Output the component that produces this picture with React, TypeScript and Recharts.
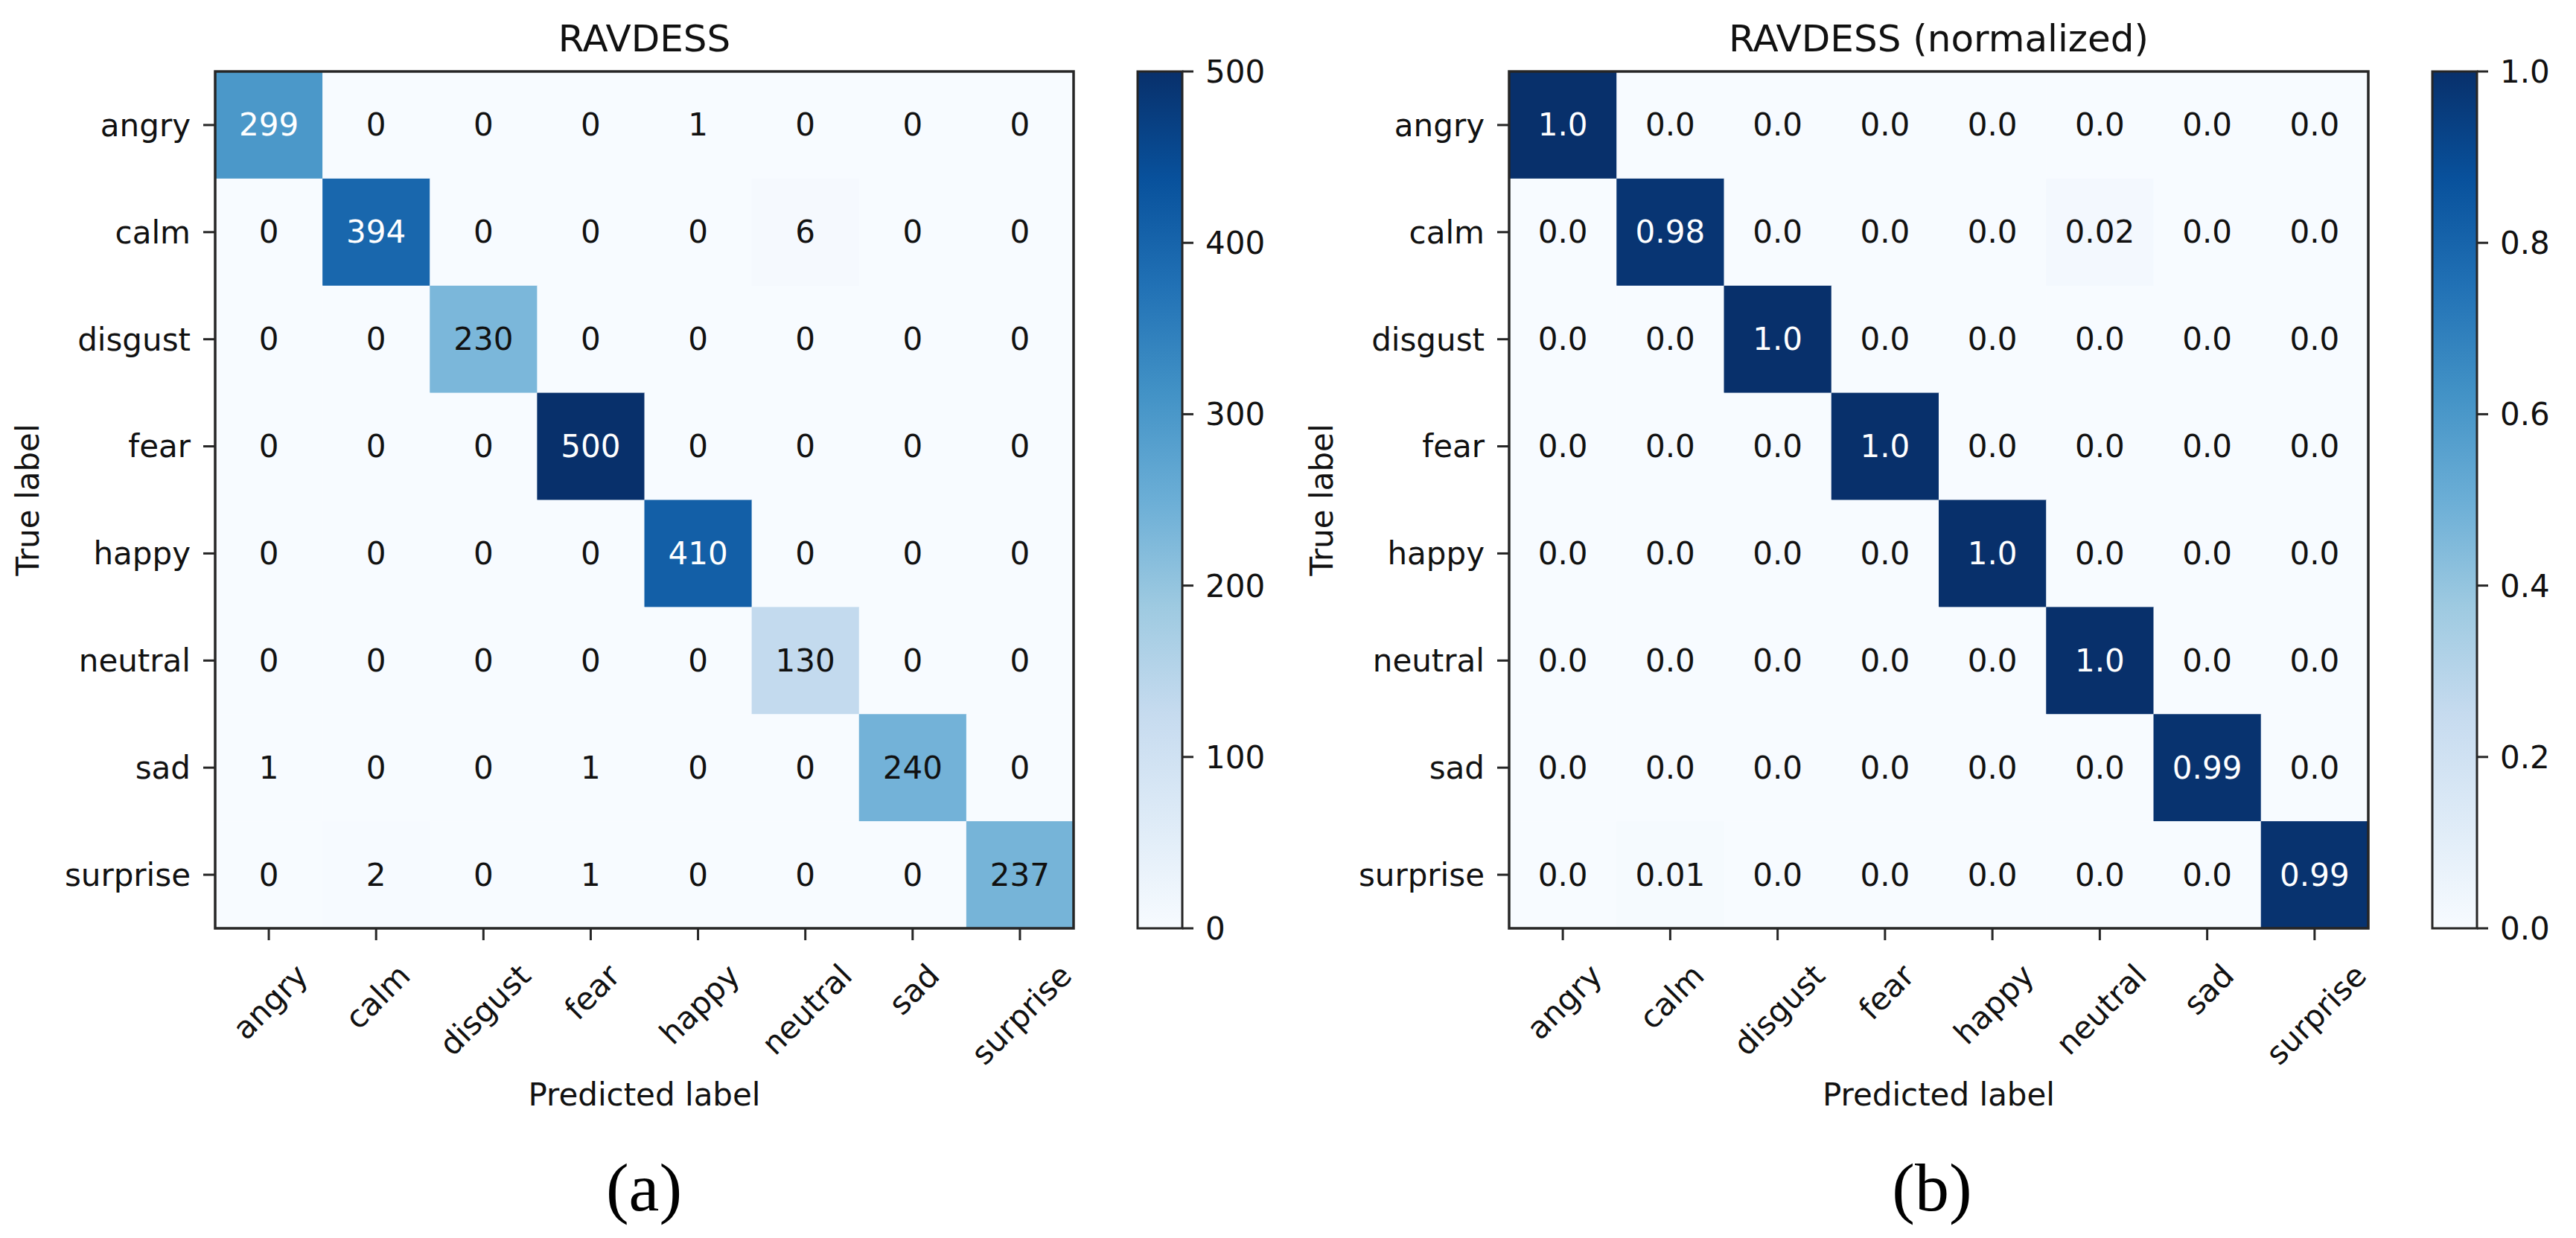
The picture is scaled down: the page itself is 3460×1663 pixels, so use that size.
import React from 'react';
import { ScatterChart, Scatter, XAxis, YAxis, ReferenceArea, BarChart, Bar, Label } from 'recharts';

// class names, in the order matplotlib drew them
const LABELS = ['angry', 'calm', 'disgust', 'fear', 'happy', 'neutral', 'sad', 'surprise'];

// rows = true label, columns = predicted label
const COUNTS = [
  [299, 0, 0, 0, 1, 0, 0, 0],
  [0, 394, 0, 0, 0, 6, 0, 0],
  [0, 0, 230, 0, 0, 0, 0, 0],
  [0, 0, 0, 500, 0, 0, 0, 0],
  [0, 0, 0, 0, 410, 0, 0, 0],
  [0, 0, 0, 0, 0, 130, 0, 0],
  [1, 0, 0, 1, 0, 0, 240, 0],
  [0, 2, 0, 1, 0, 0, 0, 237],
];

const NORMALIZED = [
  [1.0, 0, 0, 0, 0, 0, 0, 0],
  [0, 0.98, 0, 0, 0, 0.02, 0, 0],
  [0, 0, 1.0, 0, 0, 0, 0, 0],
  [0, 0, 0, 1.0, 0, 0, 0, 0],
  [0, 0, 0, 0, 1.0, 0, 0, 0],
  [0, 0, 0, 0, 0, 1.0, 0, 0],
  [0, 0, 0, 0, 0, 0, 0.99, 0],
  [0, 0.01, 0, 0, 0, 0, 0, 0.99],
];

const COUNT_TICKS = [0, 100, 200, 300, 400, 500];
const NORM_TICKS = [0, 0.2, 0.4, 0.6, 0.8, 1.0];
const INDEX_TICKS = LABELS.map((_, i) => i);

// matplotlib "Blues"
const BLUES = ['#f7fbff', '#deebf7', '#c6dbef', '#9ecae1', '#6baed6', '#4292c6', '#2171b5', '#08519c', '#08306b'];

const W = 3460;
const H = 1663;
const PANEL_W = 1730;
const PLOT_TOP = 96;
const PLOT_BOTTOM = 1247;
const FONT = '"DejaVu Sans", sans-serif';
const FS = 42;
const INK = '#111111';
const LINE = '#262626';

const hexToRgb = (h: string) => [1, 3, 5].map((i) => parseInt(h.slice(i, i + 2), 16));

const blues = (t: number) => {
  const s = Math.max(0, Math.min(1, t)) * (BLUES.length - 1);
  const i = Math.min(Math.floor(s), BLUES.length - 2);
  const f = s - i;
  const a = hexToRgb(BLUES[i]);
  const b = hexToRgb(BLUES[i + 1]);
  const c = a.map((v, k) => Math.round(v + (b[k] - v) * f));
  return `rgb(${c[0]},${c[1]},${c[2]})`;
};

let ctx: CanvasRenderingContext2D | null = null;
const textWidth = (s: string) => {
  if (!ctx) ctx = document.createElement('canvas').getContext('2d');
  if (!ctx) return s.length * FS * 0.6;
  ctx.font = `${FS}px "DejaVu Sans"`;
  return ctx.measureText(s).width;
};

// rotated label, bounding box centred under the tick like matplotlib's rotation=45
const XTick = (props: any) => {
  const { x, y, payload } = props;
  const label = LABELS[payload.value];
  const ex = x + 0.354 * textWidth(label) + 2;
  const ey = y + 40;
  return (
    <text
      x={ex}
      y={ey}
      textAnchor="end"
      dominantBaseline="central"
      fontSize={FS}
      fill={INK}
      transform={`rotate(-45 ${ex} ${ey})`}
    >
      {label}
    </text>
  );
};

interface PanelProps {
  origin: number;
  plotLeft: number;
  plotRight: number;
  title: string;
  caption: string;
  matrix: number[][];
  vmax: number;
  colorTicks: number[];
  fmtCell: (v: number) => string;
  fmtTick: (v: number) => string;
  gradId: string;
}

const Panel = ({ origin, plotLeft, plotRight, title, caption, matrix, vmax, colorTicks, fmtCell, fmtTick, gradId }: PanelProps) => {
  const cw = (plotRight - plotLeft) / LABELS.length;
  const ch = (PLOT_BOTTOM - PLOT_TOP) / LABELS.length;
  const center = (plotLeft + plotRight) / 2;
  const cbLeft = plotRight + 86;
  const cells = matrix.flatMap((row, r) => row.map((v, c) => ({ x: c, y: r, v })));

  const renderCell = (p: any) => {
    const { cx, cy, payload } = p;
    const v = payload.v;
    return (
      <g>
        <rect x={cx - cw / 2} y={cy - ch / 2} width={cw + 0.6} height={ch + 0.6} fill={blues(v / vmax)} />
        <text
          x={cx}
          y={cy}
          textAnchor="middle"
          dominantBaseline="central"
          fontSize={FS}
          fill={v > vmax / 2 ? '#ffffff' : INK}
        >
          {fmtCell(v)}
        </text>
      </g>
    );
  };

  return (
    <div style={{ position: 'absolute', left: origin, top: 0, width: PANEL_W, height: H, fontFamily: FONT, color: INK }}>
      <div style={{ position: 'absolute', left: center, top: 52, transform: 'translate(-50%, -50%)', fontSize: 50, lineHeight: 1, whiteSpace: 'nowrap' }}>
        {title}
      </div>

      <div style={{ position: 'absolute', left: 0, top: 0 }}>
        <ScatterChart
          width={plotRight + 20}
          height={H}
          margin={{ top: PLOT_TOP, right: 20, bottom: H - PLOT_BOTTOM - 300, left: 0 }}
        >
          <XAxis
            type="number"
            dataKey="x"
            domain={[-0.5, LABELS.length - 0.5]}
            ticks={INDEX_TICKS}
            interval={0}
            height={300}
            axisLine={false}
            tickSize={16}
            tickMargin={0}
            tickLine={{ stroke: LINE, strokeWidth: 3 }}
            tick={<XTick />}
          >
            <Label
              content={(lp: any) => {
                const vb = lp.viewBox;
                return (
                  <text x={vb.x + vb.width / 2} y={vb.y + 223} textAnchor="middle" dominantBaseline="central" fontSize={FS} fill={INK}>
                    Predicted label
                  </text>
                );
              }}
            />
          </XAxis>
          <YAxis
            type="number"
            dataKey="y"
            reversed
            domain={[-0.5, LABELS.length - 0.5]}
            ticks={INDEX_TICKS}
            interval={0}
            width={plotLeft}
            axisLine={false}
            tickSize={16}
            tickMargin={17}
            tickLine={{ stroke: LINE, strokeWidth: 3 }}
            tick={{ fontSize: FS, fill: INK }}
            tickFormatter={(i: number) => LABELS[i]}
          >
            <Label
              content={(lp: any) => {
                const vb = lp.viewBox;
                const lx = vb.x + vb.width - 252;
                const ly = vb.y + vb.height / 2;
                return (
                  <text x={lx} y={ly} textAnchor="middle" dominantBaseline="central" fontSize={FS} fill={INK} transform={`rotate(-90 ${lx} ${ly})`}>
                    True label
                  </text>
                );
              }}
            />
          </YAxis>
          <Scatter data={cells} shape={renderCell} isAnimationActive={false} />
          {/* frame of the matrix, kept above the cells */}
          <ReferenceArea
            x1={-0.5}
            x2={LABELS.length - 0.5}
            y1={-0.5}
            y2={LABELS.length - 0.5}
            fill="none"
            stroke={LINE}
            strokeWidth={3.5}
            ifOverflow="visible"
            zIndex={1000}
          />
        </ScatterChart>
      </div>

      <div style={{ position: 'absolute', left: cbLeft - 10, top: 0 }}>
        <BarChart
          width={220}
          height={H}
          data={[{ k: 'scale', v: vmax }]}
          margin={{ top: PLOT_TOP, right: 0, bottom: H - PLOT_BOTTOM, left: 10 }}
          barCategoryGap={0}
          barGap={0}
        >
          <defs>
            <linearGradient id={gradId} x1="0" y1="1" x2="0" y2="0">
              {BLUES.map((c, i) => (
                <stop key={c} offset={`${(i * 100) / (BLUES.length - 1)}%`} stopColor={c} />
              ))}
            </linearGradient>
          </defs>
          <XAxis dataKey="k" hide />
          <YAxis
            orientation="right"
            width={150}
            domain={[0, vmax]}
            ticks={colorTicks}
            interval={0}
            axisLine={false}
            tickSize={15}
            tickMargin={16}
            tickLine={{ stroke: LINE, strokeWidth: 3 }}
            tick={{ fontSize: FS, fill: INK }}
            tickFormatter={fmtTick}
          />
          <Bar dataKey="v" fill={`url(#${gradId})`} stroke={LINE} strokeWidth={3} isAnimationActive={false} />
        </BarChart>
      </div>

      <div
        style={{
          position: 'absolute',
          left: PANEL_W / 2,
          top: 1595,
          transform: 'translate(-50%, -50%)',
          fontSize: 92,
          lineHeight: 1,
          fontFamily: '"Liberation Serif", serif',
          color: '#000',
        }}
      >
        {caption}
      </div>
    </div>
  );
};

const fmtNorm = (v: number) => (Number.isInteger(v) ? v.toFixed(1) : String(v));

export default function App() {
  return (
    <div style={{ position: 'absolute', left: 0, top: 0, width: W, height: H, background: '#ffffff', overflow: 'hidden' }}>
      <Panel
        origin={0}
        plotLeft={289}
        plotRight={1442}
        title="RAVDESS"
        caption="(a)"
        matrix={COUNTS}
        vmax={500}
        colorTicks={COUNT_TICKS}
        fmtCell={(v) => String(v)}
        fmtTick={(v) => String(v)}
        gradId="bluesA"
      />
      <Panel
        origin={PANEL_W}
        plotLeft={297}
        plotRight={1451}
        title="RAVDESS (normalized)"
        caption="(b)"
        matrix={NORMALIZED}
        vmax={1}
        colorTicks={NORM_TICKS}
        fmtCell={fmtNorm}
        fmtTick={(v) => v.toFixed(1)}
        gradId="bluesB"
      />
    </div>
  );
}
